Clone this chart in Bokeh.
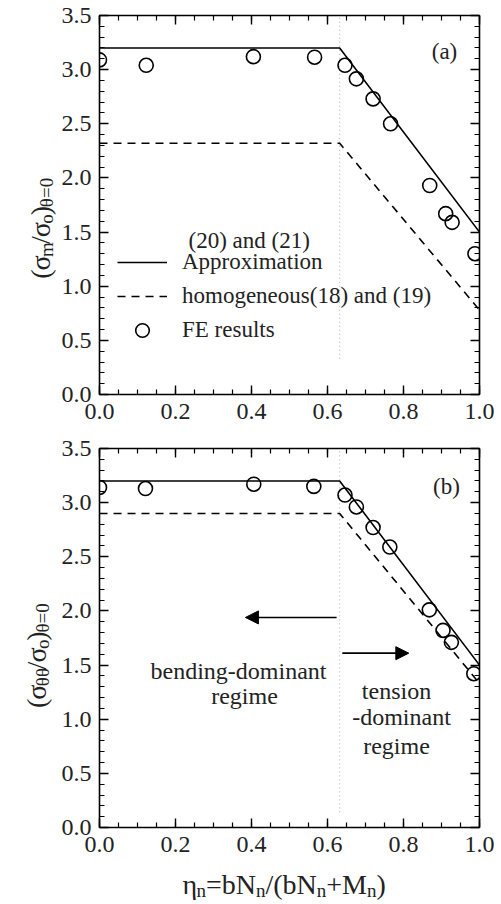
import math
from bokeh.plotting import figure
from bokeh.layouts import column, row
from bokeh.models import (Range1d, LinearAxis, SingleIntervalTicker, PrintfTickFormatter,
                          CustomJSTickFormatter, Label, Legend, LegendItem, Arrow, NormalHead)
from bokeh.embed import file_html
from bokeh.resources import INLINE

# ---------------- data ----------------
eta_line = [0.0, 0.632, 1.0]
approx_a = [3.2, 3.2, 1.5]
homog_a = [2.32, 2.32, 0.78]
approx_b = [3.2, 3.2, 1.5]
homog_b = [2.9, 2.9, 1.33]

eta_fe_a = [0.0, 0.123, 0.405, 0.566, 0.646, 0.676, 0.72, 0.766, 0.869, 0.911, 0.928, 0.988]
sig_fe_a = [3.09, 3.04, 3.12, 3.115, 3.04, 2.915, 2.73, 2.50, 1.93, 1.67, 1.59, 1.30]
eta_fe_b = [0.0, 0.121, 0.406, 0.564, 0.646, 0.676, 0.72, 0.764, 0.868, 0.904, 0.926, 0.985]
sig_fe_b = [3.14, 3.13, 3.17, 3.15, 3.07, 2.96, 2.77, 2.59, 2.01, 1.82, 1.71, 1.42]

divider_eta = [0.632, 0.632]
divider_a = [0.33, 3.5]
divider_b = [0.14, 3.5]

arrow_left_x = [0.624, 0.384]
arrow_left_y = 1.94
arrow_right_x = [0.639, 0.814]
arrow_right_y = 1.61

legend_labels = ["Approximation", "homogeneous(18) and (19)", "FE results"]
legend_header = "(20) and (21)"

X_RANGE = (0.0, 1.0)
Y_RANGE = (0.0, 3.5)

FONT = "Liberation Serif"
TICK_FS = "24px"
INK = "#222222"

# layout (page pixels)
TITLE_W = 56
FRAME_L = 99
FRAME_W = 380
FRAME_H = 379
A_TOP, A_BOTTOM = 15, 38
B_TOP, B_BOTTOM = 16, 36
RIGHT = 20
A_H = A_TOP + FRAME_H + A_BOTTOM
B_H = B_TOP + FRAME_H + B_BOTTOM
TOTAL_W = FRAME_L + FRAME_W + RIGHT
XT_H = 904 - A_H - B_H

# approximate advance widths (em) for Times-metric font
W = {"(": 0.333, ")": 0.333, "σ": 0.55, "m": 0.778, "/": 0.278, "o": 0.5, "θ": 0.5,
     "=": 0.564, "0": 0.5, "η": 0.5, "n": 0.5, "b": 0.5, "N": 0.722, "+": 0.564, "M": 0.889}


def text_w(t, size):
    return sum(W.get(c, 0.5) for c in t) * size


def make_fig(top_border, bottom_border):
    p = figure(frame_width=FRAME_W, frame_height=FRAME_H,
               x_range=Range1d(*X_RANGE), y_range=Range1d(*Y_RANGE),
               output_backend="svg", toolbar_location=None,
               x_axis_type=None, y_axis_type=None,
               min_border_left=FRAME_L - TITLE_W, min_border_right=RIGHT,
               min_border_top=top_border, min_border_bottom=bottom_border)
    p.outline_line_color = None
    p.xgrid.visible = False
    p.ygrid.visible = False
    p.background_fill_color = "white"
    p.border_fill_color = "white"
    for side in ["below", "above", "left", "right"]:
        if side in ("below", "above"):
            ticker = SingleIntervalTicker(interval=0.2, num_minor_ticks=4)
        else:
            ticker = SingleIntervalTicker(interval=0.5, num_minor_ticks=5)
        ax = LinearAxis(ticker=ticker)
        if side in ("below", "left"):
            ax.formatter = PrintfTickFormatter(format="%.1f")
            ax.major_label_text_font = FONT
            ax.major_label_text_font_size = TICK_FS
            ax.major_label_text_color = INK
            ax.major_label_standoff = 8 if side == "left" else 9
        else:
            ax.formatter = CustomJSTickFormatter(code="return ''")
            ax.major_label_standoff = 0
            ax.major_label_text_font_size = "1px"
        ax.axis_line_width = 1.6
        ax.axis_line_color = "black"
        ax.major_tick_in = 9
        ax.major_tick_out = 0
        ax.minor_tick_in = 5
        ax.minor_tick_out = 0
        ax.major_tick_line_width = 1.4
        ax.minor_tick_line_width = 1.2
        ax.major_tick_line_color = "black"
        ax.minor_tick_line_color = "black"
        p.add_layout(ax, side)
    return p


def title_fig(w, h):
    f = figure(width=w, height=h, x_range=Range1d(0, w), y_range=Range1d(0, h),
               output_backend="svg", toolbar_location=None,
               x_axis_type=None, y_axis_type=None,
               min_border_left=0, min_border_right=0, min_border_top=0, min_border_bottom=0)
    f.outline_line_color = None
    f.xgrid.visible = False
    f.ygrid.visible = False
    f.background_fill_color = "white"
    f.border_fill_color = "white"
    return f


def panel_conv(frame_bottom):
    def conv(px, py):
        x = X_RANGE[0] + (px - FRAME_L) / FRAME_W * (X_RANGE[1] - X_RANGE[0])
        y = Y_RANGE[0] + (frame_bottom - py) / FRAME_H * (Y_RANGE[1] - Y_RANGE[0])
        return x, y
    return conv


def box_conv(left, top, h):
    def conv(px, py):
        return px - left, (top + h) - py
    return conv


def rich(p, conv, pieces, start_px, start_py, F, f, rotated=False):
    pos_x, pos_y = start_px, start_py
    for txt, sub in pieces:
        size = f if sub else F
        shift = 0.2 * F if sub else 0.0
        if rotated:
            ax, ay = pos_x + shift, pos_y
        else:
            ax, ay = pos_x, pos_y + shift
        x, y = conv(ax, ay)
        p.add_layout(Label(x=x, y=y, text=txt, angle=(math.pi / 2 if rotated else 0),
                           text_font=FONT, text_font_size=f"{size}px",
                           text_color=INK, text_align="left",
                           text_baseline="alphabetic"))
        w = text_w(txt, size)
        if rotated:
            pos_y -= w
        else:
            pos_x += w


def add_text(p, conv, txt, px, py, size=24, align="left", baseline="alphabetic"):
    x, y = conv(px, py)
    p.add_layout(Label(x=x, y=y, text=txt, text_font=FONT, text_font_size=f"{size}px",
                       text_color=INK, text_align=align, text_baseline=baseline))


# ---------------- panel (a) ----------------
A_FB = A_TOP + FRAME_H
conv_a = panel_conv(A_FB)
pa = make_fig(A_TOP, A_BOTTOM)
pa.line(divider_eta, divider_a, line_color="#aaaaaa", line_width=1, line_dash="1 3")
ra_sol = pa.line(eta_line, approx_a, line_color="black", line_width=1.6)
ra_dash = pa.line(eta_line, homog_a, line_color="black", line_width=1.6, line_dash="8 6")
ra_fe = pa.scatter(eta_fe_a, sig_fe_a, marker="circle", size=14, fill_color=None,
                   line_color="black", line_width=1.6)

leg = Legend(items=[LegendItem(label=legend_labels[0], renderers=[ra_sol]),
                    LegendItem(label=legend_labels[1], renderers=[ra_dash]),
                    LegendItem(label=legend_labels[2], renderers=[ra_fe])],
             location=(18, 47), glyph_width=50, glyph_height=34, label_height=34,
             label_standoff=15, spacing=0, padding=0, margin=0,
             border_line_color=None, background_fill_alpha=0,
             label_text_font=FONT, label_text_font_size="23px", label_text_color=INK)
pa.add_layout(leg)
add_text(pa, conv_a, legend_header, 188, 240, size=23, baseline="middle")
add_text(pa, conv_a, "(a)", 444, 51, size=23, align="center", baseline="middle")

ta = title_fig(TITLE_W, A_H)
rich(ta, box_conv(0, 0, A_H),
     [("(", False), ("σ", False), ("m", True), ("/", False), ("σ", False),
      ("o", True), (")", False), ("θ=0", True)], 40, 300, 28, 19, rotated=True)

# ---------------- panel (b) ----------------
B_FB = A_H + B_TOP + FRAME_H
conv_b = panel_conv(B_FB)
pb = make_fig(B_TOP, B_BOTTOM)
pb.line(divider_eta, divider_b, line_color="#aaaaaa", line_width=1, line_dash="1 3")
pb.line(eta_line, approx_b, line_color="black", line_width=1.6)
pb.line(eta_line, homog_b, line_color="black", line_width=1.6, line_dash="8 6")
pb.scatter(eta_fe_b, sig_fe_b, marker="circle", size=14, fill_color=None,
           line_color="black", line_width=1.6)

pb.add_layout(Arrow(end=NormalHead(size=13, fill_color="black", line_color="black"),
                    x_start=arrow_left_x[0], y_start=arrow_left_y,
                    x_end=arrow_left_x[1], y_end=arrow_left_y, line_width=1.6))
pb.add_layout(Arrow(end=NormalHead(size=13, fill_color="black", line_color="black"),
                    x_start=arrow_right_x[0], y_start=arrow_right_y,
                    x_end=arrow_right_x[1], y_end=arrow_right_y, line_width=1.6))

add_text(pb, conv_b, "(b)", 446, 486, size=23, align="center", baseline="middle")
add_text(pb, conv_b, "bending-dominant", 238, 670, size=24, align="center")
add_text(pb, conv_b, "regime", 244, 695, size=24, align="center")
add_text(pb, conv_b, "tension", 396, 690, size=24, align="center")
add_text(pb, conv_b, "-dominant", 401, 716, size=24, align="center")
add_text(pb, conv_b, "regime", 396, 745, size=24, align="center")

tb = title_fig(TITLE_W, B_H)
rich(tb, box_conv(0, A_H, B_H),
     [("(", False), ("σ", False), ("θθ", True), ("/", False), ("σ", False),
      ("o", True), (")", False), ("θ=0", True)], 36, 727, 28, 19, rotated=True)

# ---------------- x-axis title ----------------
tx = title_fig(TOTAL_W, XT_H)
rich(tx, box_conv(0, A_H + B_H, XT_H),
     [("η", False), ("n", True), ("=bN", False), ("n", True), ("/(bN", False),
      ("n", True), ("+M", False), ("n", True), (")", False)], 182, 884, 28, 19)

layout = column(row(ta, pa, spacing=0), row(tb, pb, spacing=0), tx, spacing=0)
open("out.html", "w").write(file_html(layout, INLINE))
